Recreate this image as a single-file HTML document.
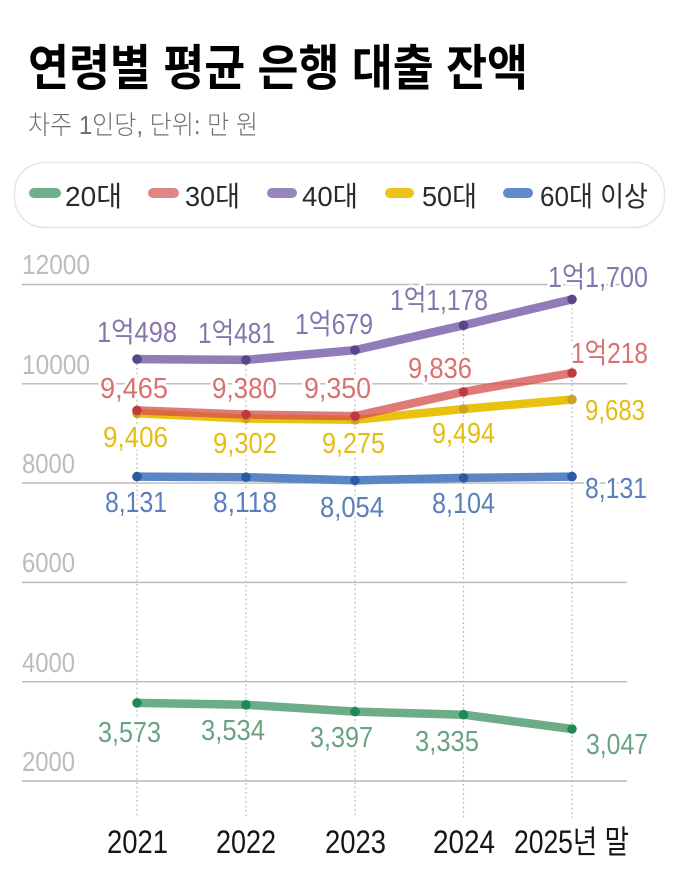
<!DOCTYPE html>
<html>
<head>
<meta charset="utf-8">
<style>
  html,body{margin:0;padding:0;background:#fff;}
  svg{display:block;}
  .t{font-family:"Liberation Sans","Noto Sans CJK KR",sans-serif;}
  .ax{font-family:"Liberation Sans","Noto Sans CJK KR",sans-serif;font-size:27.5px;fill:#bcbcbc;}
  .lb{font-family:"Liberation Sans","Noto Sans CJK KR",sans-serif;font-size:29px;stroke:#fff;stroke-width:6;paint-order:stroke;stroke-linejoin:round;}
  .xl{font-family:"Liberation Sans","Noto Sans CJK KR",sans-serif;font-size:32px;fill:#151515;}
  .lg{font-family:"Liberation Sans","Noto Sans CJK KR",sans-serif;font-size:28px;fill:#2a2a2a;}
</style>
</head>
<body>
<svg width="680" height="872" viewBox="0 0 680 872" xmlns="http://www.w3.org/2000/svg">
  <rect width="680" height="872" fill="#fff"/>

  <!-- Title -->
  <text x="28" y="85" class="t" font-size="49" font-weight="700" fill="#000" textLength="500" lengthAdjust="spacingAndGlyphs">연령별 평균 은행 대출 잔액</text>
  <!-- Subtitle -->
  <text x="28" y="134" class="t" font-size="26" font-weight="300" fill="#707070" textLength="230" lengthAdjust="spacingAndGlyphs">차주 1인당, 단위: 만 원</text>

  <!-- Legend -->
  <rect x="14.5" y="162.5" width="650" height="65" rx="30" ry="30" fill="#fff" stroke="#e6e6e6" stroke-width="1.5"/>
  <g stroke-linecap="round" stroke-width="10">
    <line x1="34" y1="193" x2="56" y2="193" stroke="#70af8d"/>
    <line x1="153" y1="193" x2="174" y2="193" stroke="#e08585"/>
    <line x1="272" y1="193" x2="292" y2="193" stroke="#9686bc"/>
    <line x1="390" y1="193" x2="409" y2="193" stroke="#ecc21c"/>
    <line x1="508" y1="193" x2="528" y2="193" stroke="#628ac9"/>
  </g>
  <text x="65" y="206" class="lg" textLength="57" lengthAdjust="spacingAndGlyphs">20대</text>
  <text x="185" y="206" class="lg" textLength="55" lengthAdjust="spacingAndGlyphs">30대</text>
  <text x="302" y="206" class="lg" textLength="56" lengthAdjust="spacingAndGlyphs">40대</text>
  <text x="422" y="206" class="lg" textLength="55" lengthAdjust="spacingAndGlyphs">50대</text>
  <text x="540" y="206" class="lg" textLength="108" lengthAdjust="spacingAndGlyphs">60대 이상</text>

  <!-- Gridlines -->
  <g stroke="#b8b8b8" stroke-width="1.4">
    <line x1="22" y1="284.5" x2="627" y2="284.5"/>
    <line x1="22" y1="383.8" x2="627" y2="383.8"/>
    <line x1="22" y1="483.1" x2="627" y2="483.1"/>
    <line x1="22" y1="582.4" x2="627" y2="582.4"/>
    <line x1="22" y1="681.7" x2="627" y2="681.7"/>
    <line x1="22" y1="781" x2="627" y2="781"/>
  </g>
  <!-- Y axis labels -->
  <text x="22" y="274" class="ax" textLength="68" lengthAdjust="spacingAndGlyphs">12000</text>
  <text x="22" y="374" class="ax" textLength="68" lengthAdjust="spacingAndGlyphs">10000</text>
  <text x="22" y="473" class="ax" textLength="53" lengthAdjust="spacingAndGlyphs">8000</text>
  <text x="22" y="572" class="ax" textLength="53" lengthAdjust="spacingAndGlyphs">6000</text>
  <text x="22" y="672" class="ax" textLength="53" lengthAdjust="spacingAndGlyphs">4000</text>
  <text x="22" y="771" class="ax" textLength="53" lengthAdjust="spacingAndGlyphs">2000</text>

  <!-- Vertical dotted lines -->
  <g stroke="#bdbdbd" stroke-width="1.2" stroke-dasharray="2,2.5">
    <line x1="137" y1="359" x2="137" y2="818"/>
    <line x1="246" y1="360" x2="246" y2="818"/>
    <line x1="355" y1="350" x2="355" y2="818"/>
    <line x1="463.5" y1="325" x2="463.5" y2="818"/>
    <line x1="572" y1="299" x2="572" y2="818"/>
  </g>

  <!-- Series lines -->
  <g fill="none" stroke-width="8.5" stroke-linejoin="round" stroke-linecap="round">
    <polyline points="137,702.9 246,704.8 355,711.6 463.5,714.7 572,729" stroke="#6dac89"/>
    <polyline points="137,476.6 246,477.2 355,480.4 463.5,477.9 572,476.6" stroke="#5a86c6"/>
    <polyline points="137,413.3 246,418.5 355,419.8 463.5,409 572,399.5" stroke="#e9c10f"/>
    <polyline points="137,410.4 246,414.6 355,416.1 463.5,391.9 572,373" stroke="#d64e4b" stroke-opacity="0.75"/>
    <polyline points="137,359.1 246,359.9 355,350.1 463.5,325.3 572,299.4" stroke="#8f7cb8"/>
  </g>

  <!-- Dots -->
  <g fill="#1f8a58">
    <circle cx="137" cy="702.9" r="4.8"/><circle cx="246" cy="704.8" r="4.8"/><circle cx="355" cy="711.6" r="4.8"/><circle cx="463.5" cy="714.7" r="4.8"/><circle cx="572" cy="729" r="4.8"/>
  </g>
  <g fill="#2a5ca6">
    <circle cx="137" cy="476.6" r="4.8"/><circle cx="246" cy="477.2" r="4.8"/><circle cx="355" cy="480.4" r="4.8"/><circle cx="463.5" cy="477.9" r="4.8"/><circle cx="572" cy="476.6" r="4.8"/>
  </g>
  <g fill="#c9a41c">
    <circle cx="137" cy="413.3" r="4.8"/><circle cx="246" cy="418.5" r="4.8"/><circle cx="355" cy="419.8" r="4.8"/><circle cx="463.5" cy="409" r="4.8"/><circle cx="572" cy="399.5" r="4.8"/>
  </g>
  <g fill="#c0393c">
    <circle cx="137" cy="410.4" r="4.8"/><circle cx="246" cy="414.6" r="4.8"/><circle cx="355" cy="416.1" r="4.8"/><circle cx="463.5" cy="391.9" r="4.8"/><circle cx="572" cy="373" r="4.8"/>
  </g>
  <g fill="#56468a">
    <circle cx="137" cy="359.1" r="4.8"/><circle cx="246" cy="359.9" r="4.8"/><circle cx="355" cy="350.1" r="4.8"/><circle cx="463.5" cy="325.3" r="4.8"/><circle cx="572" cy="299.4" r="4.8"/>
  </g>

  <!-- Purple labels -->
  <g class="lb" fill="#8676ad">
    <text x="97" y="342" textLength="80" lengthAdjust="spacingAndGlyphs">1억498</text>
    <text x="198" y="343" textLength="77" lengthAdjust="spacingAndGlyphs">1억481</text>
    <text x="295" y="334" textLength="78" lengthAdjust="spacingAndGlyphs">1억679</text>
    <text x="390" y="310" textLength="98" lengthAdjust="spacingAndGlyphs">1억1,178</text>
    <text x="548" y="287" textLength="100" lengthAdjust="spacingAndGlyphs">1억1,700</text>
  </g>
  <!-- Red labels -->
  <g class="lb" fill="#d9726f">
    <text x="100" y="398" textLength="68" lengthAdjust="spacingAndGlyphs">9,465</text>
    <text x="212" y="398" textLength="65" lengthAdjust="spacingAndGlyphs">9,380</text>
    <text x="304" y="398" textLength="67" lengthAdjust="spacingAndGlyphs">9,350</text>
    <text x="408" y="378" textLength="64" lengthAdjust="spacingAndGlyphs">9,836</text>
    <text x="571" y="363" textLength="77" lengthAdjust="spacingAndGlyphs">1억218</text>
  </g>
  <!-- Yellow labels -->
  <g class="lb" fill="#e5bd12">
    <text x="103" y="447" textLength="65" lengthAdjust="spacingAndGlyphs">9,406</text>
    <text x="213" y="453" textLength="64" lengthAdjust="spacingAndGlyphs">9,302</text>
    <text x="322" y="453" textLength="63" lengthAdjust="spacingAndGlyphs">9,275</text>
    <text x="432" y="443" textLength="63" lengthAdjust="spacingAndGlyphs">9,494</text>
    <text x="585" y="420" textLength="60" lengthAdjust="spacingAndGlyphs">9,683</text>
  </g>
  <!-- Blue labels -->
  <g class="lb" fill="#5a7fba">
    <text x="105" y="512" textLength="62" lengthAdjust="spacingAndGlyphs">8,131</text>
    <text x="213" y="512" textLength="64" lengthAdjust="spacingAndGlyphs">8,118</text>
    <text x="320" y="517" textLength="64" lengthAdjust="spacingAndGlyphs">8,054</text>
    <text x="432" y="513" textLength="63" lengthAdjust="spacingAndGlyphs">8,104</text>
    <text x="585" y="498" textLength="62" lengthAdjust="spacingAndGlyphs">8,131</text>
  </g>
  <!-- Green labels -->
  <g class="lb" fill="#6aa383">
    <text x="98" y="742" textLength="63" lengthAdjust="spacingAndGlyphs">3,573</text>
    <text x="201" y="740" textLength="64" lengthAdjust="spacingAndGlyphs">3,534</text>
    <text x="310" y="747" textLength="63" lengthAdjust="spacingAndGlyphs">3,397</text>
    <text x="415" y="751" textLength="64" lengthAdjust="spacingAndGlyphs">3,335</text>
    <text x="586" y="754" textLength="62" lengthAdjust="spacingAndGlyphs">3,047</text>
  </g>

  <!-- X axis labels -->
  <text x="107" y="853" class="xl" textLength="61" lengthAdjust="spacingAndGlyphs">2021</text>
  <text x="216" y="853" class="xl" textLength="60" lengthAdjust="spacingAndGlyphs">2022</text>
  <text x="325" y="853" class="xl" textLength="61" lengthAdjust="spacingAndGlyphs">2023</text>
  <text x="433" y="853" class="xl" textLength="62" lengthAdjust="spacingAndGlyphs">2024</text>
  <text x="514" y="853" class="xl" textLength="115" lengthAdjust="spacingAndGlyphs">2025년 말</text>
</svg>
</body>
</html>
